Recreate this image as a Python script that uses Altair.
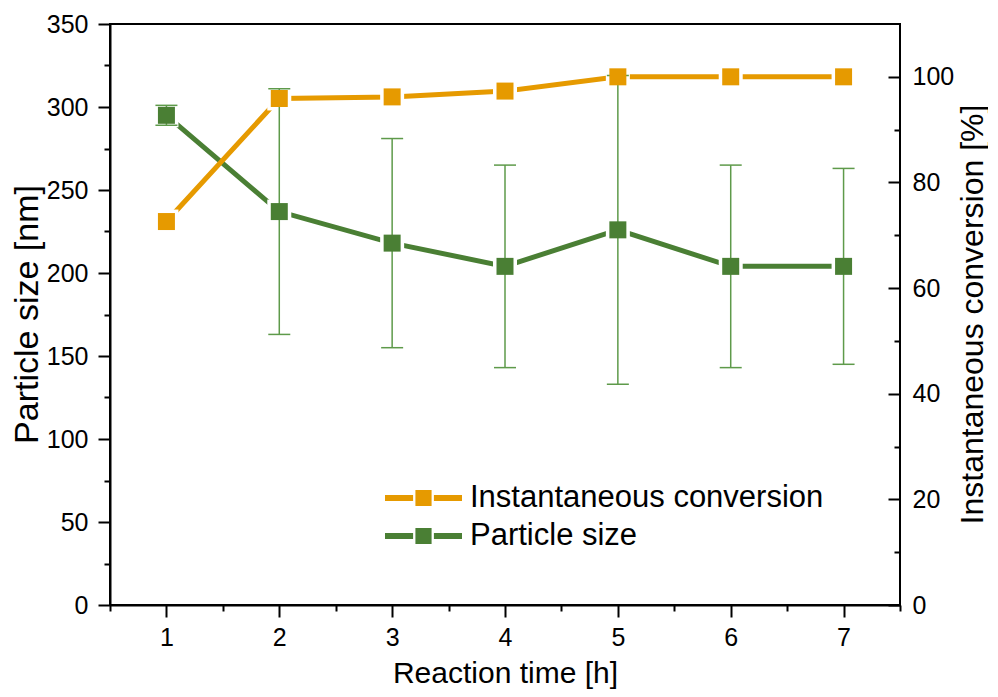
import altair as alt
import pandas as pd

# ---- data ----
time_h = [1, 2, 3, 4, 5, 6, 7]
particle_size = [295, 237, 218, 204, 226, 204, 204]
size_low = [289, 163, 155, 143, 133, 143, 145]
size_high = [301, 311, 281, 265, 319, 265, 263]
conversion = [72.6, 95.9, 96.2, 97.3, 100, 100, 100]

x_major = [1, 2, 3, 4, 5, 6, 7]
x_minor = [0.5, 1.5, 2.5, 3.5, 4.5, 5.5, 6.5, 7.5]
yl_major = [0, 50, 100, 150, 200, 250, 300, 350]
yl_minor = [25, 75, 125, 175, 225, 275, 325]
yr_major = [0, 20, 40, 60, 80, 100]
yr_minor = [10, 30, 50, 70, 90]

series_names = ["Instantaneous conversion", "Particle size"]
ORANGE = "#E69A00"
GREEN = "#4A7F34"
ERR = "#5E9A4A"
FONT = "Liberation Sans"

df_s = pd.DataFrame({"time": time_h, "size": particle_size, "low": size_low,
                     "high": size_high, "series": series_names[1]})
df_c = pd.DataFrame({"time": time_h, "conv": conversion, "series": series_names[0]})

xs = alt.Scale(domain=[0.5, 7.5], nice=False, zero=False)
ysL = alt.Scale(domain=[0, 350], nice=False, zero=False)
ysR = alt.Scale(domain=[0, 110], nice=False, zero=False)

common_axis = dict(tickWidth=2, tickColor="black", grid=False, labelFont=FONT,
                   labelFontSize=25, labelColor="black", labelFlush=False,
                   titleFont=FONT, titleFontWeight="normal", titleColor="black")

x_axis_major = alt.Axis(orient="bottom", values=x_major, tickSize=12, domain=True,
                        domainWidth=2, domainColor="black", labelPadding=8, format="d",
                        title="Reaction time [h]", titleFontSize=30,
                        titleBaseline="alphabetic", titleY=77, **common_axis)
x_axis_minor = alt.Axis(orient="bottom", values=x_minor, tickSize=6, tickWidth=2,
                        tickColor="black", labels=False, domain=False, title=None,
                        grid=False)

yl_axis_major = alt.Axis(orient="left", values=yl_major, tickSize=12, domain=True,
                         domainWidth=2, domainColor="black", labelPadding=10, format="d",
                         title="Particle size [nm]", titleFontSize=34,
                         titleX=-73, titleY=290, titleAlign="center",
                         titleBaseline="alphabetic", **common_axis)
yl_axis_minor = alt.Axis(orient="left", values=yl_minor, tickSize=6, tickWidth=2,
                         tickColor="black", labels=False, domain=False, title=None,
                         grid=False)

yr_axis_major = alt.Axis(orient="right", offset=-12, values=yr_major, tickSize=12,
                         domain=False, labelPadding=12, format="d",
                         title="Instantaneous conversion [%]", titleFontSize=32,
                         titleAngle=270, titleX=94, titleY=290, titleAlign="center",
                         titleBaseline="alphabetic", **common_axis)
yr_axis_minor = alt.Axis(orient="right", offset=-6, values=yr_minor, tickSize=6,
                         tickWidth=2, tickColor="black", labels=False, domain=False,
                         title=None, grid=False)

legend = alt.Legend(
    orient="none", legendX=275, legendY=459, title=None, padding=0,
    symbolType="M-1,-0.075H-0.27V0.075H-1Z M-0.21,-0.21H0.21V0.21H-0.21Z M0.27,-0.075H1V0.075H0.27Z",
    symbolSize=5929, symbolStrokeWidth=0, symbolOpacity=1, clipHeight=30,
    labelFont=FONT, labelFontSize=31, labelColor="black", labelOffset=8,
    rowPadding=7, labelLimit=600)
color = alt.Color("series:N", scale=alt.Scale(domain=series_names, range=[ORANGE, GREEN]),
                  legend=legend)

# lines
a_line = alt.Chart(df_s).mark_line(color=GREEN, strokeWidth=5, strokeCap="round").encode(
    x=alt.X("time:Q", scale=xs, axis=x_axis_major),
    y=alt.Y("size:Q", scale=ysL, axis=yl_axis_major))
b_line = alt.Chart(df_c).mark_line(color=ORANGE, strokeWidth=5, strokeCap="round").encode(
    x=alt.X("time:Q", scale=xs, axis=None),
    y=alt.Y("conv:Q", scale=ysR, axis=yr_axis_major))

# white halos (gap between line and marker)
a_halo = alt.Chart(df_s).mark_square(size=576, color="white", opacity=1, filled=True).encode(
    x=alt.X("time:Q", scale=xs, axis=None),
    y=alt.Y("size:Q", scale=ysL, axis=None))
b_halo = alt.Chart(df_c).mark_square(size=576, color="white", opacity=1, filled=True).encode(
    x=alt.X("time:Q", scale=xs, axis=None),
    y=alt.Y("conv:Q", scale=ysR, axis=None))

# error bars
err = alt.Chart(df_s).mark_rule(color=ERR, strokeWidth=1.5).encode(
    x=alt.X("time:Q", scale=xs, axis=None),
    y=alt.Y("low:Q", scale=ysL, axis=None),
    y2="high:Q")
cap_lo = alt.Chart(df_s).mark_tick(orient="horizontal", size=22, thickness=1.5,
                                   color=ERR, opacity=1).encode(
    x=alt.X("time:Q", scale=xs, axis=None),
    y=alt.Y("low:Q", scale=ysL, axis=None))
cap_hi = alt.Chart(df_s).mark_tick(orient="horizontal", size=22, thickness=1.5,
                                   color=ERR, opacity=1).encode(
    x=alt.X("time:Q", scale=xs, axis=None),
    y=alt.Y("high:Q", scale=ysL, axis=None))

# markers
a_sq = alt.Chart(df_s).mark_square(size=289, opacity=1, filled=True).encode(
    x=alt.X("time:Q", scale=xs, axis=None),
    y=alt.Y("size:Q", scale=ysL, axis=None),
    color=color)
b_sq = alt.Chart(df_c).mark_square(size=289, opacity=1, filled=True).encode(
    x=alt.X("time:Q", scale=xs, axis=None),
    y=alt.Y("conv:Q", scale=ysR, axis=None),
    color=color)

# minor tick axes
ghost_l = alt.Chart(df_s).mark_point(opacity=0).encode(
    x=alt.X("time:Q", scale=xs, axis=x_axis_minor),
    y=alt.Y("size:Q", scale=ysL, axis=yl_axis_minor))
ghost_r = alt.Chart(df_c).mark_point(opacity=0).encode(
    x=alt.X("time:Q", scale=xs, axis=None),
    y=alt.Y("conv:Q", scale=ysR, axis=yr_axis_minor))

chart = alt.layer(
    a_line, b_line, a_halo, b_halo, err, cap_lo, cap_hi, a_sq, b_sq, ghost_l, ghost_r
).resolve_scale(
    x="independent", y="independent", color="shared"
).properties(
    width=790, height=581,
    autosize=alt.AutoSizeParams(type="none"),
    padding={"left": 102, "top": 16, "right": 88, "bottom": 84},
    background="white",
).configure_view(stroke="black", strokeWidth=2)

chart.save("out.html", embed_options={"renderer": "svg", "actions": False})
